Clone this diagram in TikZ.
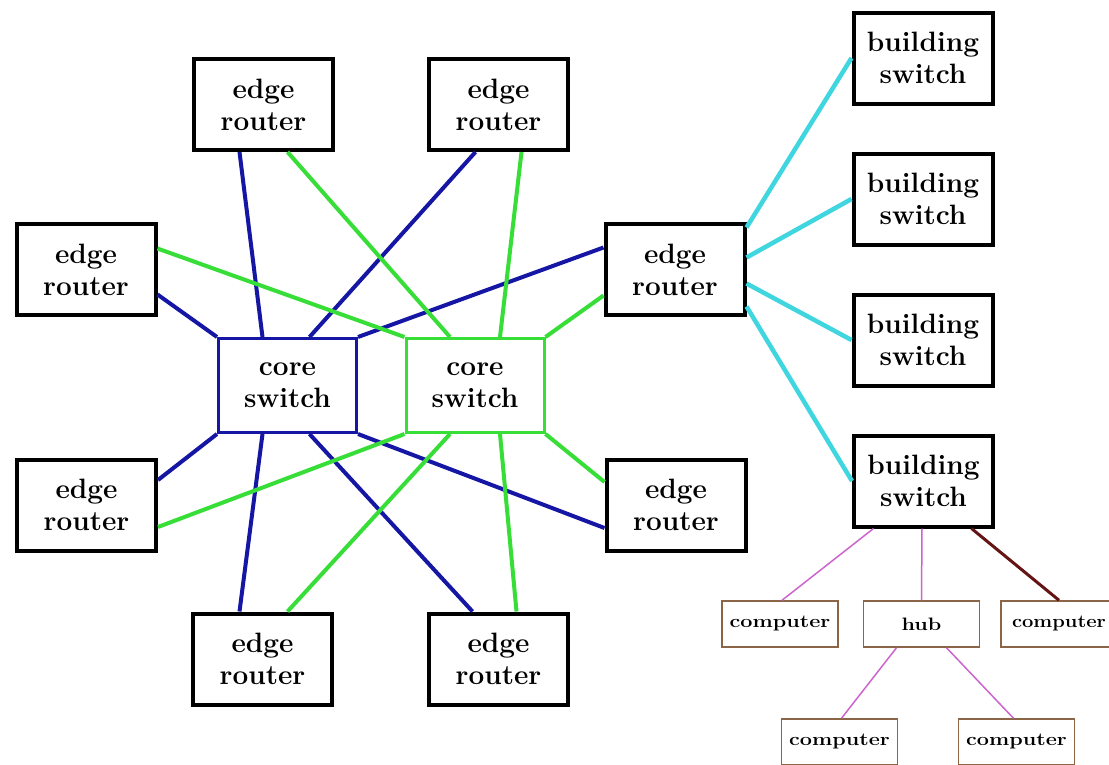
\documentclass[tikz,border=0pt]{standalone}
\usepackage{fontspec}
\usepackage{graphicx}
\definecolor{navyln}{RGB}{22,22,165}
\definecolor{greenln}{RGB}{55,222,55}
\definecolor{cyanln}{RGB}{64,214,224}
\definecolor{purpln}{RGB}{204,102,204}
\definecolor{brownln}{RGB}{100,20,20}
\definecolor{compbd}{RGB}{140,100,70}
\begin{document}
\begin{tikzpicture}[x=1pt,y=-1pt,
  box/.style={draw=black, line width=4pt, fill=white, minimum width=139pt, minimum height=91pt,
    inner sep=0pt, align=center, font=\fontsize{28}{32}\selectfont\bfseries},
  corebox/.style={box, line width=3pt, minimum width=138pt, minimum height=94pt},
  compbox/.style={draw=compbd, line width=1.5pt, fill=white, minimum width=116pt, minimum height=46pt,
    inner sep=0pt, font=\fontsize{18}{20}\selectfont\bfseries},
  bl/.style={draw=navyln, line width=4pt},
  gl/.style={draw=greenln, line width=4pt},
  cl/.style={draw=cyanln, line width=4.5pt},
  pl/.style={draw=purpln, line width=1.5pt},
  brl/.style={draw=brownln, line width=3pt}
]
\useasboundingbox (0,0) rectangle (1109,764);
\fill[white] (0,0) rectangle (1109,764);

\node[box] (er1) at (263.5,104.5) {edge\\router};
\node[box] (er2) at (498.5,104.5) {edge\\router};
\node[box] (er3) at (86,269.5) {edge\\router};
\node[box] (er4) at (675,269.5) {edge\\router};
\node[box] (er5) at (86.5,505) {edge\\router};
\node[box] (er6) at (676,505) {edge\\router};
\node[box] (er7) at (262.5,659) {edge\\router};
\node[box] (er8) at (498.5,659) {edge\\router};
\node[corebox, draw=navyln] (cb) at (287.5,385.5) {core\\switch};
\node[corebox, draw=greenln] (cg) at (475,385.5) {core\\switch};

\node[box] (bs1) at (923,58) {building\\switch};
\node[box] (bs2) at (923,199) {building\\switch};
\node[box] (bs3) at (923,340) {building\\switch};
\node[box] (bs4) at (923.5,481) {building\\switch};

\node[compbox] (c1) at (780,624) {\scalebox{1.2}[1]{computer}};
\node[compbox] (hub) at (921.5,624) {\scalebox{1.2}[1]{hub}};
\node[compbox] (c2) at (1059,624) {\scalebox{1.12}[1]{computer}};
\node[compbox] (c3) at (839.5,742) {\scalebox{1.2}[1]{computer}};
\node[compbox] (c4) at (1016.5,742) {\scalebox{1.2}[1]{computer}};

% blue links to left core switch
\draw[bl] ([xshift=-24pt]er1.south) -- ([xshift=-25pt]cb.north);
\draw[bl] ([xshift=-23pt]er2.south) -- ([xshift=22pt]cb.north);
\draw[bl] ([yshift=-25pt]er3.east) -- (cb.north west);
\draw[bl] ([yshift=22pt]er4.west) -- (cb.north east);
\draw[bl] ([yshift=25pt]er5.east) -- (cb.south west);
\draw[bl] ([xshift=-23pt]er7.north) -- ([xshift=-25pt]cb.south);
\draw[bl] ([xshift=-26pt]er8.north) -- ([xshift=22pt]cb.south);
\draw[bl] ([yshift=-23pt]er6.west) -- (cb.south east);

% green links to right core switch
\draw[gl] ([xshift=24pt]er1.south) -- ([xshift=-25pt]cg.north);
\draw[gl] ([xshift=23pt]er2.south) -- ([xshift=25pt]cg.north);
\draw[gl] ([yshift=21pt]er3.east) -- (cg.north west);
\draw[gl] ([yshift=-26pt]er4.west) -- (cg.north east);
\draw[gl] ([yshift=-22pt]er5.east) -- (cg.south west);
\draw[gl] ([xshift=25pt]er7.north) -- ([xshift=-25pt]cg.south);
\draw[gl] ([xshift=18pt]er8.north) -- ([xshift=25pt]cg.south);
\draw[gl] ([yshift=23pt]er6.west) -- (cg.south east);

% cyan links to building switches
\draw[cl] ([yshift=42pt]er4.east) -- (bs1.west);
\draw[cl] ([yshift=12pt]er4.east) -- (bs2.west);
\draw[cl] ([yshift=-14pt]er4.east) -- (bs3.west);
\draw[cl] ([yshift=-37pt]er4.east) -- (bs4.west);

% building switch to hosts
\draw[pl] ([xshift=-50pt]bs4.south) -- ([xshift=2pt]c1.north);
\draw[pl] ([xshift=-1.5pt]bs4.south) -- (hub.north);
\draw[brl] ([xshift=48pt]bs4.south) -- (c2.north);
\draw[pl] ([xshift=-25pt]hub.south) -- ([xshift=2pt]c3.north);
\draw[pl] ([xshift=25pt]hub.south) -- ([xshift=-3pt]c4.north);
\end{tikzpicture}
\end{document}
